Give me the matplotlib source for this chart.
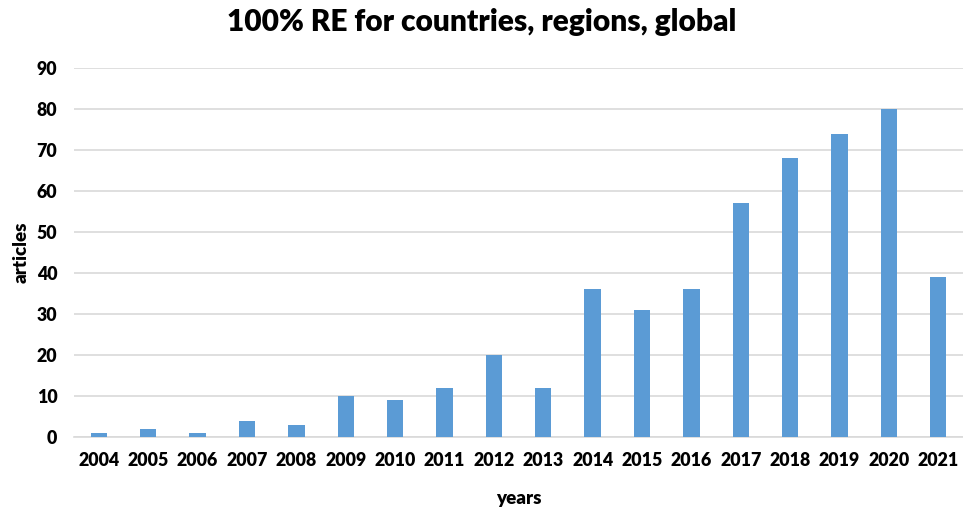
import matplotlib
matplotlib.use("Agg")
import matplotlib.pyplot as plt

years = [str(y) for y in range(2004, 2022)]
articles = [1, 2, 1, 4, 3, 10, 9, 12, 20, 12, 36, 31, 36, 57, 68, 74, 80, 39]
yticks = list(range(0, 100, 10))

plt.rcParams['font.family'] = ['Lato', 'DejaVu Sans']

fig = plt.figure(figsize=(9.63, 5.12), dpi=100)
ax = fig.add_axes([0.077, 0.1465, 0.923, 0.7205])
x = range(len(years))
ax.bar(x, articles, width=0.33, color='#5B9BD5', zorder=3)
ax.set_xlim(-0.5, len(years) - 0.5)
ax.set_ylim(0, 90)
ax.set_yticks(yticks)
ax.set_xticks(list(x))
ax.set_xticklabels(years, fontsize=12.8, fontweight='heavy')
for lab in ax.get_yticklabels():
    lab.set_fontweight('heavy')
    lab.set_fontsize(12.8)
ax.yaxis.grid(True, color='#D9D9D9', linewidth=1.2, zorder=0)
ax.tick_params(axis='y', length=0, pad=12)
ax.tick_params(axis='x', length=0, pad=11)
for s in ['top', 'right', 'left']:
    ax.spines[s].set_visible(False)
ax.spines['bottom'].set_color('#D9D9D9')
ax.spines['bottom'].set_linewidth(1.2)
ax.set_xlabel('years', fontsize=13.5, fontweight='heavy', labelpad=15)
ax.set_ylabel('articles', fontsize=13.5, fontweight='heavy', labelpad=5)
fig.suptitle('100% RE for countries, regions, global', fontsize=21.5, fontweight='heavy', y=0.985)
fig.savefig('out.png', dpi=100)
